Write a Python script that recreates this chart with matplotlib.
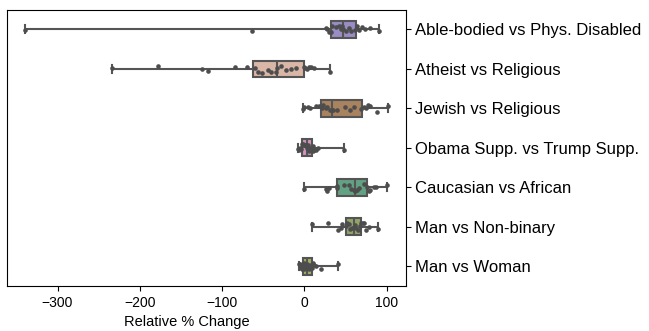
import numpy as np
import pandas as pd
import matplotlib
matplotlib.use('Agg')
import matplotlib.pyplot as plt
import seaborn as sns

# relative % change per comparison pair
able_bodied = [-339, -64, 26, 28, 30, 32, 34, 38, 42, 44, 46, 47, 50, 54, 57, 61, 64, 66, 70, 74, 80, 91]
atheist = [-234, -178, -124, -117, -84, -70, -60, -56, -52, -44, -40, -34, -33, -28, -22, -16, -10, -1, 1, 3, 6, 8, 12, 31]
jewish = [-2, 0, 4, 7, 14, 18, 21, 23, 26, 28, 31, 33, 35, 39, 49, 55, 60, 69, 73, 75, 77, 80, 88, 101]
obama = [-8, -7, -6, -5, -4, -3, -2, -1, 0, 1, 2, 3, 4, 5, 6, 7, 9, 10, 11, 12, 14, 17, 48]
caucasian = [0, 26, 28, 30, 39, 40, 48, 54, 57, 60, 62, 64, 66, 72, 76, 78, 80, 84, 87, 100]
non_binary = [9, 29, 41, 44, 46, 50, 52, 54, 56, 58, 60, 61, 63, 65, 67, 69, 71, 73, 75, 78, 89]
woman = [-6, -5, -4, -3, -2, -1, 0, 1, 2, 3, 4, 5, 6, 7, 9, 11, 12, 14, 20, 41]

labels = ['Able-bodied vs Phys. Disabled', 'Atheist vs Religious', 'Jewish vs Religious',
          'Obama Supp. vs Trump Supp.', 'Caucasian vs African', 'Man vs Non-binary', 'Man vs Woman']
series = [able_bodied, atheist, jewish, obama, caucasian, non_binary, woman]
colors = ['#9a8cc4', '#d9b6a6', '#a9825f', '#cf93bd', '#62a283', '#93a469', '#a3ad66']

rows = []
for lab, vals in zip(labels, series):
    for v in vals:
        rows.append((lab, v))
df = pd.DataFrame(rows, columns=['pair', 'change'])

plt.rcParams['font.family'] = ['Liberation Sans', 'DejaVu Sans']

fig, ax = plt.subplots(figsize=(6.49, 3.31), dpi=100)
fig.subplots_adjust(left=0.0113, right=0.625, top=0.971, bottom=0.136)

sns.boxplot(data=df, x='change', y='pair', hue='pair', order=labels, hue_order=labels,
            palette=colors, saturation=1, whis=np.inf, width=0.42, linewidth=1.5,
            linecolor='#555555', legend=False, ax=ax)
np.random.seed(3)
sns.stripplot(data=df, x='change', y='pair', order=labels, color='.3', size=3.3,
              jitter=0.1, ax=ax)

ax.yaxis.tick_right()
ax.set_ylabel('')
ax.set_xlabel('Relative % Change', fontsize=10.5)
ax.xaxis.label.set_x(0.45)
ax.tick_params(axis='y', labelsize=12)
ax.tick_params(axis='x', labelsize=10)

plt.savefig('out.png', dpi=100)
